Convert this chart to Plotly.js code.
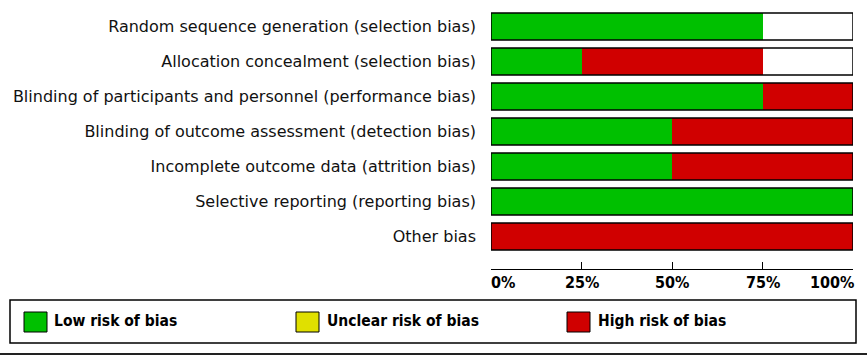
<!DOCTYPE html>
<html>
<head>
<meta charset="utf-8">
<script src="https://cdn.plot.ly/plotly-3.0.1.min.js"></script>
<style>html,body{margin:0;padding:0;background:#fff;}#chart{width:867px;height:357px;}</style>
</head>
<body>
<div id="chart"></div>
<script>
const categories = [
  "Random sequence generation (selection bias)",
  "Allocation concealment (selection bias)",
  "Blinding of participants and personnel (performance bias)",
  "Blinding of outcome assessment (detection bias)",
  "Incomplete outcome data (attrition bias)",
  "Selective reporting (reporting bias)",
  "Other bias"
];
const lowRisk     = [75, 25, 75, 50, 50, 100, 0];
const unclearRisk = [0, 0, 0, 0, 0, 0, 0];
const highRisk    = [0, 50, 25, 50, 50, 0, 100];
const notAssessed = [25, 25, 0, 0, 0, 0, 0];
const tickValues  = [0, 25, 50, 75, 100];
const tickLabels  = ["0%", "25%", "50%", "75%", "100%"];
const legendNames = ["Low risk of bias", "Unclear risk of bias", "High risk of bias"];

const GREEN = "#00c000", YELLOW = "#e0e000", RED = "#d00000";
const W = 867, H = 357;
const ml = 491, mr = 14, mt = 9, mb = 88;
const pw = W - ml - mr, ph = H - mt - mb;
const px = x => (x - ml) / pw;
const py = y => (H - mb - y) / ph;
const boldFont = "'DejaVu Sans Condensed', 'Liberation Sans Narrow', 'DejaVu Sans', sans-serif";

const mk = (vals, name, color) => ({
  type: "bar", orientation: "h", x: vals, y: categories, name: name,
  marker: {color: color, line: {width: 0}}, showlegend: false, hoverinfo: "x+name"
});
const data = [
  mk(lowRisk, legendNames[0], GREEN),
  mk(unclearRisk, legendNames[1], YELLOW),
  mk(highRisk, legendNames[2], RED),
  mk(notAssessed, "", "#ffffff")
];

const shapes = [];
categories.forEach((c, i) => {
  shapes.push({type: "rect", xref: "x", yref: "y", x0: 0, x1: 100,
    y0: i - 0.385, y1: i + 0.385, line: {color: "#000", width: 1.5}, fillcolor: "rgba(0,0,0,0)"});
});
// legend box
shapes.push({type: "rect", xref: "paper", yref: "paper", x0: px(10), x1: px(856), y0: py(300), y1: py(343),
  line: {color: "#000", width: 1.5}, fillcolor: "rgba(0,0,0,0)"});
// bottom rule
shapes.push({type: "line", xref: "paper", yref: "paper", x0: px(0), x1: px(867), y0: py(354), y1: py(354),
  line: {color: "#222", width: 2}});

const annotations = [];
// x tick labels (0% left-aligned, 100% right-aligned, as in the reference)
tickValues.forEach((v, i) => {
  annotations.push({xref: "x", yref: "paper", x: v, y: py(271), text: tickLabels[i], showarrow: false,
    xanchor: i === 0 ? "left" : (i === tickValues.length - 1 ? "right" : "center"), yanchor: "top",
    xshift: i === 0 ? -2 : (i === tickValues.length - 1 ? 3 : 0),
    font: {family: boldFont, size: 16, color: "#000", weight: "bold"}});
});

const legendSq = [24, 296, 567];
const legendTx = [52, 325, 596];
const legendCol = [GREEN, YELLOW, RED];
legendNames.forEach((n, i) => {
  shapes.push({type: "rect", xref: "paper", yref: "paper", x0: px(legendSq[i]), x1: px(legendSq[i] + 23),
    y0: py(312), y1: py(332), line: {color: "#000", width: 1}, fillcolor: legendCol[i]});
  annotations.push({xref: "paper", yref: "paper", x: px(legendTx[i]), y: py(321), text: n,
    showarrow: false, xanchor: "left", yanchor: "middle",
    font: {family: boldFont, size: 15.5, color: "#000", weight: "bold"}});
});

const layout = {
  width: W, height: H,
  margin: {l: ml, r: mr, t: mt, b: mb, pad: 0},
  paper_bgcolor: "#fff", plot_bgcolor: "#fff",
  barmode: "stack", bargap: 0.23,
  showlegend: false,
  xaxis: {range: [0, 100], tickvals: tickValues, showticklabels: false, ticks: "inside", ticklen: 7,
    tickcolor: "#000", showgrid: false, zeroline: false, showline: true, linecolor: "#000", linewidth: 1,
    fixedrange: true},
  yaxis: {type: "category", autorange: false, range: [6.93, -0.5], showgrid: false, zeroline: false,
    showline: false, ticks: "", ticklabelstandoff: 14,
    tickfont: {family: "'DejaVu Sans', sans-serif", size: 16, color: "#111"}, fixedrange: true},
  shapes: shapes,
  annotations: annotations
};
Plotly.newPlot("chart", data, layout, {displayModeBar: false, staticPlot: true});
</script>
</body>
</html>
